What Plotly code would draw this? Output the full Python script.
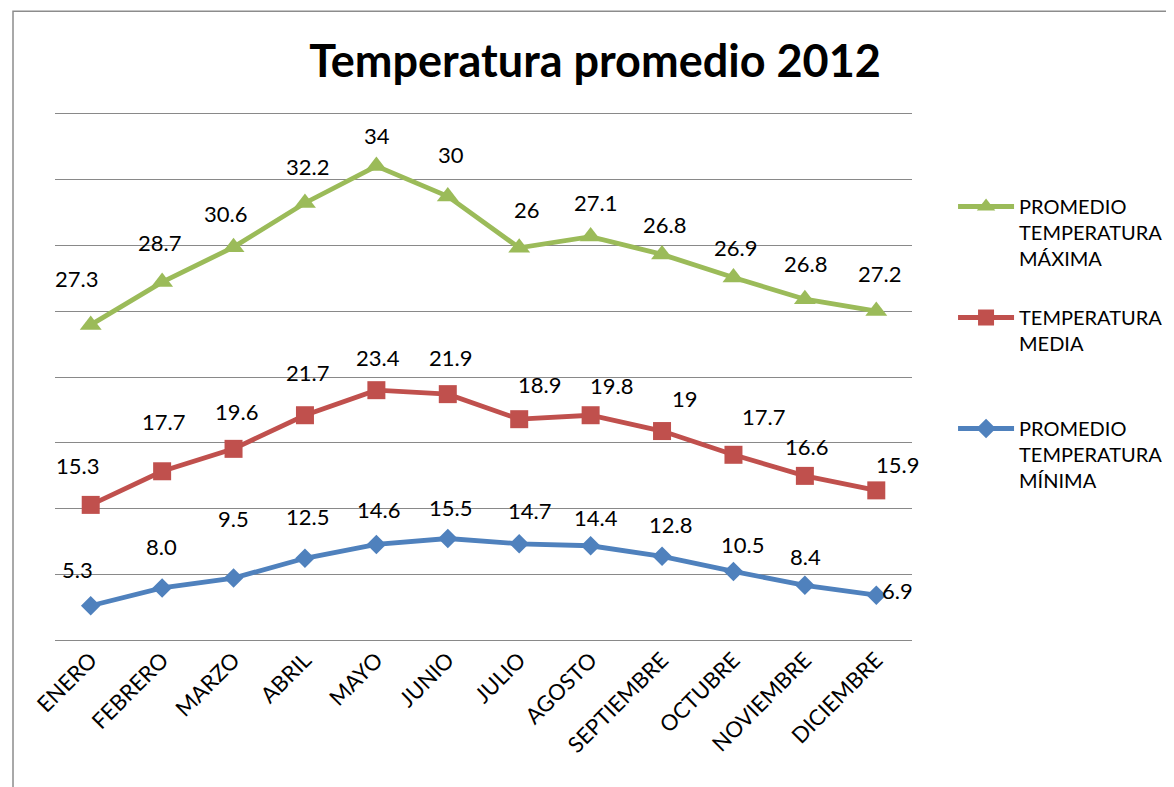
import numpy as np
import plotly.graph_objects as go

months = ["ENERO", "FEBRERO", "MARZO", "ABRIL", "MAYO", "JUNIO", "JULIO",
          "AGOSTO", "SEPTIEMBRE", "OCTUBRE", "NOVIEMBRE", "DICIEMBRE"]
t_min = [5.3, 8.0, 9.5, 12.5, 14.6, 15.5, 14.7, 14.4, 12.8, 10.5, 8.4, 6.9]
t_med = [15.3, 17.7, 19.6, 21.7, 23.4, 21.9, 18.9, 19.8, 19, 17.7, 16.6, 15.9]
t_max = [27.3, 28.7, 30.6, 32.2, 34, 30, 26, 27.1, 26.8, 26.9, 26.8, 27.2]

lab_min = [f"{v:.1f}" for v in t_min]
lab_med = [f"{v:g}" for v in t_med]
lab_max = [f"{v:g}" for v in t_max]

# label offsets in pixels (dx right, dy up) relative to each point
off_max = [(-14, 46), (-3, 40), (-8, 34), (3, 36), (1, 31), (3, 42), (8, 38),
           (5, 34), (2, 30), (2, 30), (1, 36), (3, 38)]
off_med = [(-13, 39), (1, 50), (3, 37), (3, 43), (2, 33), (3, 37), (20, 35),
           (21, 30), (23, 33), (30, 38), (2, 29), (21, 26)]
off_min = [(-13, 36), (-1, 41), (0, 60), (3, 42), (2, 35), (3, 31), (10, 33),
           (5, 28), (8, 32), (9, 27), (1, 29), (21, 5)]

GREEN = "#9BBB59"
RED = "#C0504D"
BLUE = "#4F81BD"
FONT = "Lato"

fig = go.Figure()
fig.add_trace(go.Scatter(
    x=months, y=t_min, name="PROMEDIO<br>TEMPERATURA<br>MÍNIMA",
    stackgroup="one", fill="none", mode="lines+markers",
    legendgroup="c", legendrank=3,
    line=dict(color=BLUE, width=4.8),
    marker=dict(symbol="diamond", size=15, color=BLUE)))
fig.add_trace(go.Scatter(
    x=months, y=t_med, name="TEMPERATURA<br>MEDIA<br> ",
    stackgroup="one", fill="none", mode="lines+markers",
    legendgroup="b", legendrank=2,
    line=dict(color=RED, width=4.8),
    marker=dict(symbol="square", size=18, color=RED)))
fig.add_trace(go.Scatter(
    x=months, y=t_max, name="PROMEDIO<br>TEMPERATURA<br>MÁXIMA",
    stackgroup="one", fill="none", mode="lines+markers",
    legendgroup="a", legendrank=1,
    line=dict(color=GREEN, width=4.8),
    marker=dict(symbol="triangle-up", size=19, color=GREEN)))

cum = np.cumsum(np.array([t_min, t_med, t_max]), axis=0)
annotations = []
for row, labels, offs in zip(cum, [lab_min, lab_med, lab_max], [off_min, off_med, off_max]):
    for m, yv, lab, (dx, dy) in zip(months, row, labels, offs):
        annotations.append(dict(
            x=m, y=yv, xref="x", yref="y", text=lab, showarrow=False,
            xshift=dx, yshift=dy, font=dict(family=FONT, size=22, color="black")))

fig.update_layout(
    width=1158, height=779,
    margin=dict(l=47, r=254, t=104, b=145, autoexpand=False),
    paper_bgcolor="white", plot_bgcolor="white",
    font=dict(family=FONT, color="black"),
    title=dict(text="<b>Temperatura promedio 2012</b>",
               font=dict(family=FONT, size=45, color="black"),
               x=0.5069, xanchor="center", y=0.932, yanchor="middle",
               xref="container", yref="container"),
    xaxis=dict(type="category", range=[-0.5, 11.5], tickangle=-45,
               showgrid=False, showline=False, zeroline=False, ticks="",
               tickfont=dict(family=FONT, size=22, color="black")),
    yaxis=dict(range=[-0.2, 80.2], tickvals=[0, 10, 20, 30, 40, 50, 60, 70, 80],
               showticklabels=False,
               showgrid=True, gridcolor="#898989", gridwidth=1.3,
               zeroline=False, showline=False, ticks=""),
    legend=dict(x=0.8161, y=0.7702, xref="container", yref="container",
                xanchor="left", yanchor="top", itemwidth=56,
                traceorder="grouped", tracegroupgap=30,
                valign="top", font=dict(family=FONT, size=20, color="black"),
                bgcolor="rgba(0,0,0,0)"),
    annotations=annotations,
    shapes=[dict(type="rect", xref="paper", yref="paper",
                 x0=-0.049, x1=2.0, y0=-1.0, y1=1.19,
                 line=dict(color="#8C8C8C", width=1.5), fillcolor="rgba(0,0,0,0)",
                 layer="below")],
    showlegend=True,
)

fig.write_html("out.html")
